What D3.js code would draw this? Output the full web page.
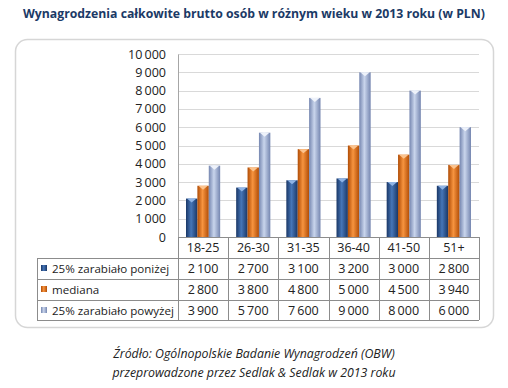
<!DOCTYPE html>
<html>
<head>
<meta charset="utf-8">
<script src="https://cdn.jsdelivr.net/npm/d3@7"></script>
<style>
  body { margin: 0; background: #fff; }
  svg { display: block; }
  text { font-family: "Open Sans", "Noto Sans", sans-serif; }
</style>
</head>
<body>
<div id="chart"></div>
<script>
// data
var categories = ["18-25", "26-30", "31-35", "36-40", "41-50", "51+"];
var seriesNames = ["25% zarabiało poniżej", "mediana", "25% zarabiało powyżej"];
var low = [2100, 2700, 3100, 3200, 3000, 2800];
var median = [2800, 3800, 4800, 5000, 4500, 3940];
var high = [3900, 5700, 7600, 9000, 8000, 6000];
var yTicks = [0, 1000, 2000, 3000, 4000, 5000, 6000, 7000, 8000, 9000, 10000];

var series = [low, median, high];
var colors = [
    { edge: "#1a3766", mid: "#4676b8", cap: "#8fb4e6" },
    { edge: "#b04c05", mid: "#f7943f", cap: "#fbc38e" },
    { edge: "#7586b0", mid: "#c9d5ec", cap: "#eef2fa" }
];

var width = 508, height = 388;
var plot = { left: 178, right: 479, top: 54, bottom: 237 };
var rowH = 21, tableLeft = 37;

var loc = d3.formatLocale({ decimal: ",", thousands: "\u2009", grouping: [3], currency: ["", " zł"] });
var fmt = loc.format(",d");

// scale a text's font so it is as wide as in the picture
function fitWidth(sel, size, target) {
    sel.style("font-size", size + "px");
    var w = sel.node().getComputedTextLength();
    var s = size * target / w;
    sel.style("font-size", s + "px");
    return s;
}

var svg = d3.select("#chart").append("svg")
    .attr("width", width)
    .attr("height", height);

var defs = svg.append("defs");
colors.forEach(function (c, i) {
    var g = defs.append("linearGradient")
        .attr("id", "grad" + i)
        .attr("x1", "0").attr("x2", "1").attr("y1", "0").attr("y2", "0");
    g.append("stop").attr("offset", "0%").attr("stop-color", c.edge);
    g.append("stop").attr("offset", "45%").attr("stop-color", c.mid);
    g.append("stop").attr("offset", "100%").attr("stop-color", c.edge);
});

// title
var title = svg.append("text")
    .attr("x", 23)
    .attr("y", 18)
    .style("font-weight", "bold")
    .style("fill", "#1b3a66")
    .text("Wynagrodzenia całkowite brutto osób w różnym wieku w 2013 roku (w PLN)");
fitWidth(title, 14, 462);

// frame
svg.append("rect")
    .attr("x", 15.5).attr("y", 39.5)
    .attr("width", 478).attr("height", 288)
    .attr("rx", 12)
    .style("fill", "none")
    .style("stroke", "#d6d6d6")
    .style("stroke-width", 1.5);

var x = d3.scaleBand()
    .domain(categories)
    .range([plot.left, plot.right]);

var xInner = d3.scaleBand()
    .domain(d3.range(series.length))
    .range([8, x.bandwidth() - 8]);

var y = d3.scaleLinear()
    .domain([0, 10000])
    .range([plot.bottom, plot.top]);

// gridlines
svg.append("g")
    .selectAll("line")
    .data(yTicks)
    .enter().append("line")
    .attr("x1", plot.left)
    .attr("x2", plot.right)
    .attr("y1", function (d) { return Math.round(y(d)) + 0.5; })
    .attr("y2", function (d) { return Math.round(y(d)) + 0.5; })
    .style("stroke", "#d9d9d9");

// y axis
var yAxis = svg.append("g")
    .attr("transform", "translate(" + plot.left + ",0)")
    .call(d3.axisLeft(y).tickValues(yTicks).tickFormat(fmt).tickSize(0).tickPadding(12));
yAxis.select(".domain").style("stroke", "#a6a6a6");
yAxis.selectAll("text")
    .style("fill", "#222")
    .style("font-family", "\"Open Sans\", sans-serif");
var labelSize = fitWidth(yAxis.selectAll("text").filter(function (d) { return d === 10000; }), 11, 38);
yAxis.selectAll("text").style("font-size", labelSize + "px");

// bars
var groups = svg.append("g")
    .selectAll("g")
    .data(categories)
    .enter().append("g")
    .attr("transform", function (d) { return "translate(" + x(d) + ",0)"; });

groups.each(function (cat, ci) {
    var g = d3.select(this);
    series.forEach(function (s, si) {
        var bx = xInner(si), bw = xInner.bandwidth();
        var top = y(s[ci]);
        g.append("rect")
            .attr("x", bx)
            .attr("y", top)
            .attr("width", bw)
            .attr("height", plot.bottom - top)
            .style("fill", "url(#grad" + si + ")");
        // bevelled top
        g.append("path")
            .attr("d", "M" + (bx + 1) + "," + top +
                "L" + (bx + bw - 1) + "," + top +
                "L" + (bx + bw / 2) + "," + (top + 4) + "Z")
            .style("fill", colors[si].cap);
    });
});

// table
var table = svg.append("g").style("font-size", labelSize + "px").style("fill", "#222");
var lineColor = "#8c8c8c";

// horizontal lines
var hLines = [plot.bottom + rowH, plot.bottom + 2 * rowH, plot.bottom + 3 * rowH, plot.bottom + 4 * rowH - 1];
table.selectAll(".hl")
    .data(hLines)
    .enter().append("line")
    .attr("x1", tableLeft)
    .attr("x2", plot.right)
    .attr("y1", function (d) { return d + 0.5; })
    .attr("y2", function (d) { return d + 0.5; })
    .style("stroke", lineColor);

table.append("line")
    .attr("x1", plot.left).attr("x2", plot.right)
    .attr("y1", plot.bottom + 0.5).attr("y2", plot.bottom + 0.5)
    .style("stroke", lineColor);

// vertical lines
var vx = categories.map(function (c) { return x(c); }).concat([plot.right]);
table.selectAll(".vl")
    .data(vx)
    .enter().append("line")
    .attr("x1", function (d) { return Math.round(d) + 0.5; })
    .attr("x2", function (d) { return Math.round(d) + 0.5; })
    .attr("y1", plot.bottom)
    .attr("y2", plot.bottom + 4 * rowH - 1)
    .style("stroke", lineColor);
table.append("line")
    .attr("x1", tableLeft + 0.5).attr("x2", tableLeft + 0.5)
    .attr("y1", plot.bottom + rowH).attr("y2", plot.bottom + 4 * rowH - 1)
    .style("stroke", lineColor);

// header
table.selectAll(".cat")
    .data(categories)
    .enter().append("text")
    .attr("x", function (d) { return x(d) + x.bandwidth() / 2; })
    .attr("y", plot.bottom + rowH / 2 + 4)
    .attr("text-anchor", "middle")
    .text(function (d) { return d; });

// rows
var names = [];
series.forEach(function (s, si) {
    var ry = plot.bottom + (si + 1) * rowH;
    table.append("rect")
        .attr("x", 41).attr("y", ry + 7)
        .attr("width", 6).attr("height", 6)
        .style("fill", "url(#grad" + si + ")");
    names.push(table.append("text")
        .attr("x", 52)
        .attr("y", ry + rowH / 2 + 4)
        .text(seriesNames[si]));
    table.selectAll(".v" + si)
        .data(s)
        .enter().append("text")
        .attr("x", function (d, i) { return x(categories[i]) + x.bandwidth() / 2; })
        .attr("y", ry + rowH / 2 + 4)
        .attr("text-anchor", "middle")
        .text(function (d) { return fmt(d); });
});
var nameSize = fitWidth(names[2], 11, 122);
names.forEach(function (n) { n.style("font-size", nameSize + "px"); });

// source
var src = svg.append("g")
    .style("font-style", "italic")
    .style("fill", "#222")
    .attr("text-anchor", "middle");
var src1 = src.append("text").attr("x", 254).attr("y", 358)
    .text("Źródło: Ogólnopolskie Badanie Wynagrodzeń (OBW)");
var srcSize = fitWidth(src1, 11, 282);
src.append("text").attr("x", 254).attr("y", 377)
    .style("font-size", srcSize + "px")
    .text("przeprowadzone  przez Sedlak & Sedlak w 2013 roku");
</script>
</body>
</html>
